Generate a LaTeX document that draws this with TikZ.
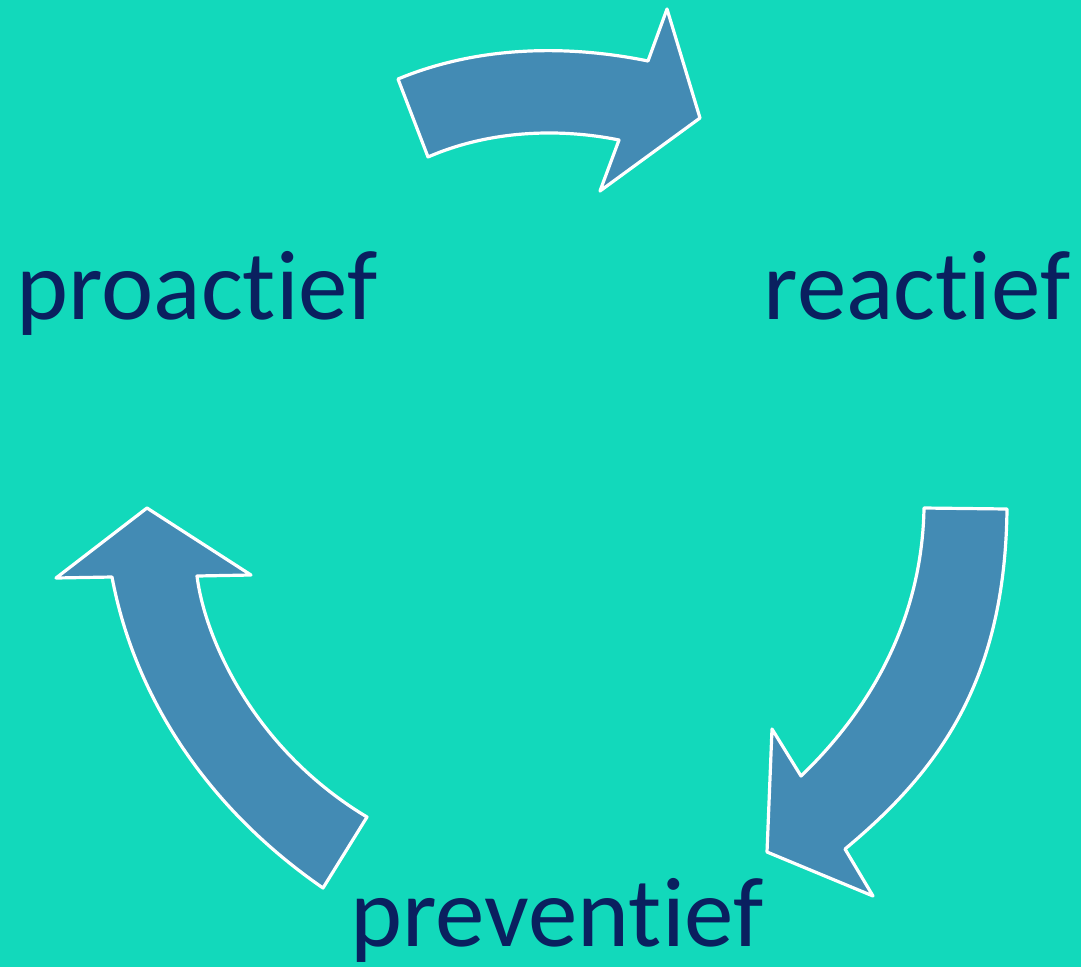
\documentclass[tikz,border=0pt]{standalone}
\usepackage{fontspec}
\setmainfont{Carlito}[Ligatures=NoCommon]
\definecolor{bgteal}{HTML}{12D9BB}
\definecolor{arrowblue}{HTML}{438BB4}
\definecolor{textnavy}{HTML}{0A205F}
\begin{document}
\begin{tikzpicture}[x=1pt,y=-1pt,
  cyclearrow/.style={fill=arrowblue,draw=white,line width=3.2pt,line join=round},
  label/.style={text=textnavy,inner sep=0pt,anchor=base,font=\fontsize{99}{110}\selectfont}]
\useasboundingbox (0,0) rectangle (1081,967);
\fill[bgteal] (0,0) rectangle (1081,967);
% top arrow
\draw[cyclearrow] (398,79) .. controls (480,45) and (570,45) .. (648,61)
  -- (667,9) -- (700,118) -- (600,191) -- (619,140)
  .. controls (560,128) and (490,130) .. (428,157) -- cycle;
% right arrow
\draw[cyclearrow] (1007,509) .. controls (1005,680) and (940,770) .. (845,849)
  -- (873,896) -- (767,852) -- (772,729) -- (801,776)
  .. controls (870,710) and (922,620) .. (924,508) -- cycle;
% left arrow
\draw[cyclearrow] (323,888) .. controls (210,810) and (135,700) .. (112,577)
  -- (56,578) -- (147,508) -- (251,575) -- (197,576)
  .. controls (205,640) and (255,750) .. (367,817) -- cycle;
\node[label] (proactief) at (197,319) {proactief};
\node[label] (reactief) at (917,319) {reactief};
\node[label] (preventief) at (557,946) {preventief};
\end{tikzpicture}
\end{document}
